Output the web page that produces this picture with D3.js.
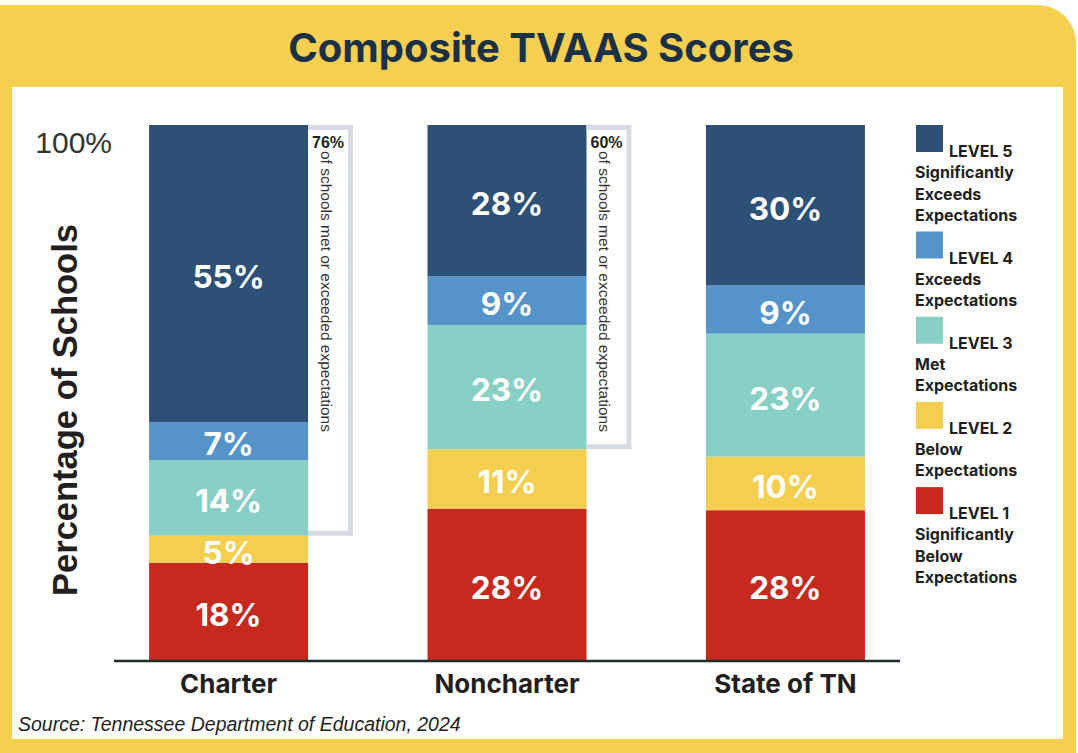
<!DOCTYPE html>
<html>
<head>
<meta charset="utf-8">
<script src="https://cdn.jsdelivr.net/npm/d3@7"></script>
<style>
    body { margin: 0; background: #ffffff; }
    svg { display: block; }
</style>
</head>
<body>
<div id="vis-holder"></div>
<script>
// Values (percent of schools per TVAAS level)
const categories = ["Charter", "Noncharter", "State of TN"];
const levelKeys = ["level1", "level2", "level3", "level4", "level5"];
const level1 = [18, 28, 28];
const level2 = [5, 11, 10];
const level3 = [14, 23, 23];
const level4 = [7, 9, 9];
const level5 = [55, 28, 30];
const metOrExceeded = [76, 60, null];
const levelColors = ["#c62a1f", "#f4ce4f", "#88cfc5", "#5494c9", "#2d5077"];
const legendLabels = [
    ["LEVEL 5", "Significantly", "Exceeds", "Expectations"],
    ["LEVEL 4", "Exceeds", "Expectations"],
    ["LEVEL 3", "Met", "Expectations"],
    ["LEVEL 2", "Below", "Expectations"],
    ["LEVEL 1", "Significantly", "Below", "Expectations"]
];
const yTicks = [1];

const width = 1078,
    height = 753;

const svg = d3.select("#vis-holder")
    .append("svg")
    .attr("width", width)
    .attr("height", height);

// yellow frame with the rounded top-right corner
svg.append("path")
    .attr("d", "M0,5 H1038 A38,38 0 0 1 1076,43 V753 H0 Z")
    .attr("fill", "#f4cf50");

svg.append("rect")
    .attr("x", 12)
    .attr("y", 87)
    .attr("width", 1051)
    .attr("height", 652)
    .attr("fill", "#ffffff");

svg.append("text")
    .attr("x", 541)
    .attr("y", 62)
    .attr("text-anchor", "middle")
    .style("font-family", "Inter, sans-serif")
    .style("font-weight", 700)
    .style("font-size", "40px")
    .style("fill", "#1c3046")
    .text("Composite TVAAS Scores");

drawChart();

function drawChart() {
    let table = categories.map(function (c, i) {
        return {
            category: c,
            level1: level1[i],
            level2: level2[i],
            level3: level3[i],
            level4: level4[i],
            level5: level5[i]
        };
    });

    // labelled shares add to 99 in two columns, so normalise each column
    let series = d3.stack()
        .keys(levelKeys)
        .offset(d3.stackOffsetExpand)(table);

    const x = d3.scaleBand()
        .domain(categories)
        .range([114, 900])
        .paddingInner(0.429)
        .paddingOuter(0.126);

    const y = d3.scaleLinear()
        .domain([0, 1])
        .range([660, 125]);

    const color = d3.scaleOrdinal()
        .domain(levelKeys)
        .range(levelColors);

    // 100% tick
    let yAxis = svg.append("g")
        .attr("transform", "translate(112,0)")
        .call(d3.axisLeft(y).tickValues(yTicks).tickFormat(d3.format(".0%")).tickSize(0).tickPadding(0));
    yAxis.select(".domain").remove();
    yAxis.selectAll("text")
        .attr("dy", "0.9em")
        .style("font-family", "'Liberation Sans', Arial, sans-serif")
        .style("font-size", "30px")
        .style("fill", "#333333");

    svg.append("text")
        .attr("transform", "translate(77,410) rotate(-90)")
        .attr("text-anchor", "middle")
        .style("font-family", "'Liberation Sans', Arial, sans-serif")
        .style("font-weight", 700)
        .style("font-size", "34.5px")
        .style("fill", "#231f20")
        .text("Percentage of Schools");

    let groups = svg.append("g")
        .selectAll("g")
        .data(series)
        .enter().append("g")
        .attr("fill", function (d) { return color(d.key); });

    groups.selectAll("rect")
        .data(function (d) { return d; })
        .enter().append("rect")
        .attr("x", function (d) { return x(d.data.category); })
        .attr("y", function (d) { return y(d[1]); })
        .attr("width", x.bandwidth())
        .attr("height", function (d) { return y(d[0]) - y(d[1]); });

    groups.selectAll("text")
        .data(function (d) { return d.map(function (p) { p.key = d.key; return p; }); })
        .enter().append("text")
        .attr("x", function (d) { return x(d.data.category) + x.bandwidth() / 2; })
        .attr("y", function (d) { return (y(d[0]) + y(d[1])) / 2 + 3; })
        .attr("dy", "0.36em")
        .attr("text-anchor", "middle")
        .style("font-family", "Inter, sans-serif")
        .style("font-weight", 700)
        .style("font-size", "31.5px")
        .style("fill", "#ffffff")
        .text(function (d) { return d.data[d.key] + "%"; });

    // brackets for levels 3-5
    let top = series[4], low = series[2];
    categories.forEach(function (c, i) {
        if (metOrExceeded[i] == null) return;
        let x0 = x(c) + x.bandwidth(),
            y0 = y(top[i][1]),
            y1 = y(low[i][0]);
        svg.append("path")
            .attr("d", "M" + x0 + "," + (y0 + 2.5) + " H" + (x0 + 42.5) + " V" + (y1 - 2.5) + " H" + x0)
            .attr("fill", "none")
            .attr("stroke", "#d6dbe3")
            .attr("stroke-width", 5);
        svg.append("text")
            .attr("x", x0 + 4)
            .attr("y", y0 + 23)
            .style("font-family", "'Liberation Sans', Arial, sans-serif")
            .style("font-weight", 700)
            .style("font-size", "16px")
            .style("fill", "#231f20")
            .text(metOrExceeded[i] + "%");
        svg.append("text")
            .attr("transform", "translate(" + (x0 + 13) + "," + (y0 + 26) + ") rotate(90)")
            .style("font-family", "'Liberation Sans', Arial, sans-serif")
            .style("font-size", "15.5px")
            .style("fill", "#333333")
            .text("of schools met or exceeded expectations");
    });

    svg.append("line")
        .attr("x1", 114)
        .attr("x2", 900)
        .attr("y1", 661)
        .attr("y2", 661)
        .attr("stroke", "#1d2d28")
        .attr("stroke-width", 2.5);

    svg.append("g")
        .selectAll("text")
        .data(categories)
        .enter().append("text")
        .attr("x", function (d) { return x(d) + x.bandwidth() / 2; })
        .attr("y", 693)
        .attr("text-anchor", "middle")
        .style("font-family", "Inter, sans-serif")
        .style("font-weight", 700)
        .style("font-size", "26px")
        .style("fill", "#231f20")
        .text(function (d) { return d; });

    // legend
    let legendTop = 125, lineH = 21.3;
    legendLabels.forEach(function (lines, i) {
        let g = svg.append("g")
            .attr("transform", "translate(916," + legendTop + ")");
        g.append("rect")
            .attr("width", 27)
            .attr("height", 27)
            .attr("fill", levelColors[4 - i]);
        g.selectAll("text")
            .data(lines)
            .enter().append("text")
            .attr("x", function (d, k) { return k === 0 ? 33 : -1; })
            .attr("y", function (d, k) { return 32 + k * lineH; })
            .style("font-family", "Inter, sans-serif")
            .style("font-weight", 700)
            .style("font-size", "16px")
            .style("fill", "#231f20")
            .text(function (d) { return d; });
        legendTop += (lines.length + 1) * lineH;
    });

    svg.append("text")
        .attr("x", 18)
        .attr("y", 731)
        .style("font-family", "'Liberation Sans', Arial, sans-serif")
        .style("font-style", "italic")
        .style("font-size", "19.5px")
        .style("fill", "#231f20")
        .text("Source: Tennessee Department of Education, 2024");
}
</script>
</body>
</html>
